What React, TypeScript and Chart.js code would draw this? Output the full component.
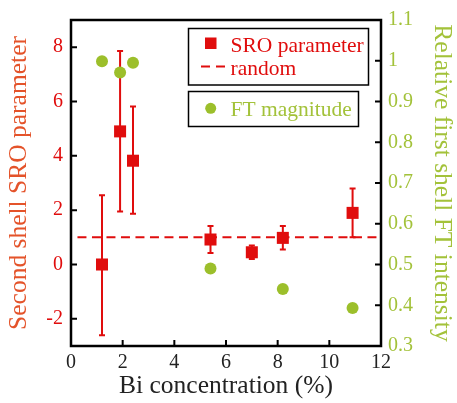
import React, { useEffect, useRef } from "react";
import { Chart, registerables } from "chart.js";

Chart.register(...registerables);

// ---- data ----
const sroX = [1.2, 1.9, 2.4, 5.4, 7.0, 8.2, 10.9];
const sroY = [0.0, 4.9, 3.82, 0.92, 0.45, 0.98, 1.9];
const sroLow = [-2.6, 1.95, 1.87, 0.42, 0.2, 0.55, 1.0];
const sroHigh = [2.55, 7.86, 5.82, 1.42, 0.7, 1.42, 2.8];

const ftX = [1.2, 1.9, 2.4, 5.4, 8.2, 10.9];
const ftY = [0.999, 0.971, 0.995, 0.49, 0.44, 0.393];

const randomX = [0.25, 12];
const randomY = [1.0, 1.0];

const xTicks = [0, 2, 4, 6, 8, 10, 12];
const leftTicks = [-2, 0, 2, 4, 6, 8];
const rightTicks = [0.3, 0.4, 0.5, 0.6, 0.7, 0.8, 0.9, 1.0, 1.1];
const rightTickLabels = ["0.3", "0.4", "0.5", "0.6", "0.7", "0.8", "0.9", "1", "1.1"];

const RED = "#e00d0d";
const GREEN = "#9cbf2b";
const GREEN_TEXT = "#a3c23a";
const TITLE_RED = "#e4532a";
const FONT = "'Liberation Serif', 'Times New Roman', serif";

const framePlugin = {
  id: "framePlugin",
  beforeDatasetsDraw(chart: any) {
    const ctx = chart.ctx;
    const x = chart.scales.x;
    const y = chart.scales.y;
    ctx.save();
    ctx.strokeStyle = RED;
    ctx.lineWidth = 2;
    sroX.forEach((xv, i) => {
      const px = x.getPixelForValue(xv);
      const pl = y.getPixelForValue(sroLow[i]);
      const ph = y.getPixelForValue(sroHigh[i]);
      ctx.beginPath();
      ctx.moveTo(px, pl);
      ctx.lineTo(px, ph);
      ctx.moveTo(px - 3, pl);
      ctx.lineTo(px + 3, pl);
      ctx.moveTo(px - 3, ph);
      ctx.lineTo(px + 3, ph);
      ctx.stroke();
    });
    ctx.restore();
  },
  afterDraw(chart: any) {
    const ctx = chart.ctx;
    const a = chart.chartArea;
    const x = chart.scales.x;
    const y = chart.scales.y;
    const y1 = chart.scales.y1;
    ctx.save();
    ctx.strokeStyle = "#000";
    ctx.lineWidth = 2.5;
    ctx.strokeRect(a.left, a.top, a.right - a.left, a.bottom - a.top);
    ctx.lineWidth = 2;
    const tl = 6;
    ctx.beginPath();
    xTicks.forEach((v) => {
      const px = x.getPixelForValue(v);
      ctx.moveTo(px, a.bottom);
      ctx.lineTo(px, a.bottom - tl);
    });
    leftTicks.forEach((v) => {
      const py = y.getPixelForValue(v);
      ctx.moveTo(a.left, py);
      ctx.lineTo(a.left + tl, py);
    });
    rightTicks.forEach((v) => {
      const py = y1.getPixelForValue(v);
      ctx.moveTo(a.right, py);
      ctx.lineTo(a.right - tl, py);
    });
    ctx.stroke();

    // legend boxes
    ctx.lineWidth = 1.5;
    ctx.strokeStyle = "#000";
    ctx.strokeRect(188.5, 28.5, 180, 56.5);
    ctx.strokeRect(188.5, 91.5, 170, 35);
    ctx.fillStyle = RED;
    ctx.fillRect(205, 37.5, 11.5, 11.5);
    ctx.strokeStyle = RED;
    ctx.lineWidth = 2;
    ctx.setLineDash([9, 6]);
    ctx.beginPath();
    ctx.moveTo(201, 66.5);
    ctx.lineTo(225, 66.5);
    ctx.stroke();
    ctx.setLineDash([]);
    ctx.fillStyle = GREEN;
    ctx.beginPath();
    ctx.arc(210.7, 108.3, 5.5, 0, Math.PI * 2);
    ctx.fill();
    ctx.font = `21.5px ${FONT}`;
    ctx.textAlign = "left";
    ctx.textBaseline = "alphabetic";
    ctx.fillStyle = RED;
    ctx.fillText("SRO parameter", 230.5, 51.7);
    ctx.fillText("random", 230.5, 75);
    ctx.fillStyle = GREEN_TEXT;
    ctx.fillText("FT magnitude", 230.5, 115.5);
    ctx.restore();
  },
};

export default function App() {
  const ref = useRef<HTMLCanvasElement>(null);
  useEffect(() => {
    if (!ref.current) return;
    const chart = new Chart(ref.current, {
      type: "scatter",
      data: {
        datasets: [
          {
            label: "FT magnitude",
            data: ftX.map((v, i) => ({ x: v, y: ftY[i] })),
            yAxisID: "y1",
            pointStyle: "circle",
            pointRadius: 6,
            pointBorderWidth: 0,
            backgroundColor: GREEN,
            borderColor: GREEN,
          },
          {
            label: "SRO parameter",
            data: sroX.map((v, i) => ({ x: v, y: sroY[i] })),
            yAxisID: "y",
            pointStyle: "rect",
            pointRadius: 8.5,
            pointBorderWidth: 0,
            backgroundColor: RED,
            borderColor: RED,
          },
          {
            type: "line",
            label: "random",
            data: randomX.map((v, i) => ({ x: v, y: randomY[i] })),
            yAxisID: "y",
            borderColor: RED,
            borderWidth: 2,
            borderDash: [9, 5.5],
            pointRadius: 0,
            fill: false,
          } as any,
        ],
      },
      options: {
        animation: false,
        responsive: true,
        maintainAspectRatio: false,
        layout: { padding: { top: 19, left: 0, right: 0, bottom: 0 } },
        plugins: { legend: { display: false }, tooltip: { enabled: false } },
        scales: {
          x: {
            type: "linear",
            min: 0,
            max: 12,
            afterBuildTicks: (s: any) => {
              s.ticks = xTicks.map((v) => ({ value: v }));
            },
            afterFit: (s: any) => {
              s.height = 57;
            },
            grid: { display: false, drawTicks: false },
            border: { display: false },
            ticks: {
              font: { family: FONT, size: 20 },
              color: "#222",
              padding: 5,
              maxRotation: 0,
              callback: (v: any) => String(v),
            },
            title: {
              display: true,
              text: "Bi concentration (%)",
              font: { family: FONT, size: 25.5 },
              color: "#222",
              padding: { top: 0, bottom: 1.5 },
            },
          },
          y: {
            type: "linear",
            position: "left",
            min: -3,
            max: 9,
            afterBuildTicks: (s: any) => {
              s.ticks = leftTicks.map((v) => ({ value: v }));
            },
            afterFit: (s: any) => {
              s.width = 71;
            },
            grid: { display: false, drawTicks: false },
            border: { display: false },
            ticks: {
              font: { family: FONT, size: 20 },
              color: RED,
              padding: 8,
              callback: (v: any) => String(v),
            },
            title: {
              display: true,
              text: "Second shell SRO parameter",
              font: { family: FONT, size: 25.5 },
              color: TITLE_RED,
              padding: { top: 4, bottom: 0 },
            },
          },
          y1: {
            type: "linear",
            position: "right",
            min: 0.3,
            max: 1.1,
            afterBuildTicks: (s: any) => {
              s.ticks = rightTicks.map((v) => ({ value: v }));
            },
            afterFit: (s: any) => {
              s.width = 76;
            },
            grid: { display: false, drawTicks: false },
            border: { display: false },
            ticks: {
              font: { family: FONT, size: 20 },
              color: GREEN_TEXT,
              padding: 7,
              callback: (v: any, i: number) => rightTickLabels[i],
            },
            title: {
              display: true,
              text: "Relative first shell FT intensity",
              font: { family: FONT, size: 25.5 },
              color: GREEN_TEXT,
              padding: { top: 0, bottom: 0 },
            },
          },
        },
      },
      plugins: [framePlugin],
    });
    return () => chart.destroy();
  }, []);
  return (
    <div style={{ position: "fixed", left: 0, top: 0, width: 457, height: 403, background: "#fff" }}>
      <canvas ref={ref} />
    </div>
  );
}
